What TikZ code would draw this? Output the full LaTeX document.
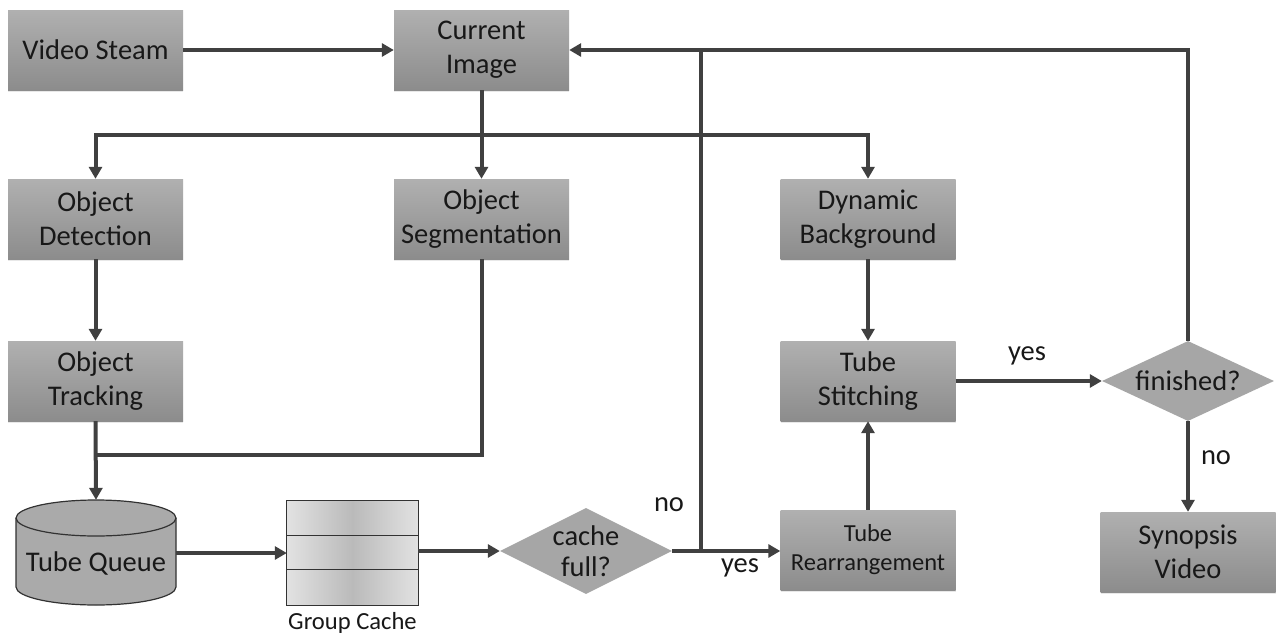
\documentclass[tikz,border=0pt]{standalone}
\usepackage{fontspec}
\setmainfont{Carlito}
\usetikzlibrary{arrows.meta,shapes.geometric,shadows,calc}
\definecolor{boxtop}{RGB}{176,176,176}
\definecolor{boxbot}{RGB}{140,140,140}
\definecolor{dia}{RGB}{166,166,166}
\definecolor{arrc}{RGB}{64,64,64}
\definecolor{txt}{RGB}{24,24,24}
\definecolor{cyl}{RGB}{170,170,170}
\definecolor{cylline}{RGB}{50,50,50}
\definecolor{gcL}{RGB}{226,226,226}
\definecolor{gcM}{RGB}{186,186,186}
\begin{document}
\begin{tikzpicture}[x=1pt,y=-1pt,
  box/.style={rectangle, minimum width=175pt, minimum height=80pt,
    top color=boxtop, bottom color=boxbot, draw=none, align=center,
    font=\fontsize{28.5}{34}\selectfont, text=txt, inner sep=0pt,
    drop shadow={shadow xshift=0pt, shadow yshift=-2pt, opacity=0.18}},
  smallbox/.style={box, font=\fontsize{24.5}{29}\selectfont},
  decision/.style={diamond, fill=dia, minimum width=172pt, inner sep=-4pt,
    shape aspect=2.1, align=center, text=txt,
    font=\fontsize{28.5}{31}\selectfont},
  lbl/.style={font=\fontsize{28.5}{34}\selectfont, text=txt, inner sep=0pt},
  link/.style={draw=arrc, line width=4pt, -{Triangle[length=12pt,width=13pt]}},
  plain/.style={draw=arrc, line width=4pt}
]
\useasboundingbox[fill=white] (0,0) rectangle (1279,637);

% nodes
\node[box] (vs) at (95.5,50) {Video Steam};
\node[box] (ci) at (481.5,50) {Current\\Image};
\node[box] (od) at (95.5,219) {Object\\Detection};
\node[box] (os) at (481.5,219) {Object\\Segmentation};
\node[box] (db) at (868,219) {Dynamic\\Background};
\node[box] (ot) at (95.5,381) {Object\\Tracking};
\node[box] (ts) at (868,381) {Tube\\Stitching};
\node[decision, minimum height=80pt] (fin) at (1188,381) {finished?};
\node[smallbox] (tr) at (868,550) {Tube\\Rearrangement};
\node[box] (sv) at (1188,552) {Synopsis\\Video};
\node[decision, minimum height=86pt] (cf) at (586,551) {cache\\full?};

% tube queue cylinder
\fill[cyl] (16,518) -- (16,587) arc[start angle=180, end angle=0, x radius=80, y radius=18]
  -- (176,518) arc[start angle=0, end angle=-180, x radius=80, y radius=18] -- cycle;
\draw[cylline, line width=1.2pt] (16,518) -- (16,587) arc[start angle=180, end angle=0, x radius=80, y radius=18] -- (176,518);
\draw[cylline, line width=1.2pt, fill=cyl] (96,518) ellipse[x radius=80, y radius=18];
\node[rectangle, minimum width=160pt, minimum height=105pt, inner sep=0pt,
  text height=40pt, text depth=2pt, text=txt, font=\fontsize{28.5}{34}\selectfont]
  (tq) at (96,552.5) {Tube Queue};

% group cache
\node[rectangle, minimum width=131pt, minimum height=104pt, inner sep=0pt] (gc) at (352.5,553) {};
\shade[left color=gcL, right color=gcL, middle color=gcM] (gc.north west) rectangle ($(gc.north east)+(0,35)$);
\shade[left color=gcL, right color=gcL, middle color=gcM] ($(gc.north west)+(0,35)$) rectangle ($(gc.north east)+(0,69)$);
\shade[left color=gcL, right color=gcL, middle color=gcM] ($(gc.north west)+(0,69)$) rectangle (gc.south east);
\draw[cylline, line width=1.2pt] (gc.north west) rectangle (gc.south east);
\draw[cylline, line width=1.2pt] ($(gc.north west)+(0,35)$) -- ($(gc.north east)+(0,35)$);
\draw[cylline, line width=1.2pt] ($(gc.north west)+(0,69)$) -- ($(gc.north east)+(0,69)$);
\node[lbl, font=\fontsize{24.6}{29}\selectfont] (gcl) at (352.5,623) {Group Cache};

% junction coordinates
\coordinate (j1) at (481.5,135);
\coordinate (j2) at (95.5,455);
\coordinate (j3) at (701,551);

% connectors
\draw[link] (vs) -- (ci);
\draw[link] (fin.north) |- (ci.east);
\draw[link] (ci.south) -- (os.north);
\draw[link] (j1) -| (od.north);
\draw[link] (j1) -| (db.north);
\draw[link] (od.south) -- (ot.north);
\draw[plain] (os.south) |- (j2);
\draw[link] (ot.south) -- (tq.north);
\draw[link] (tq.east |- gc.west) -- (gc.west);
\draw[link] (gc.east |- cf.west) -- (cf.west);
\draw[link] (cf.east) -- (tr.west |- cf.east);
\draw[plain] (j3) -- (j3 |- ci.east);
\draw[link] (tr.north) -- (ts.south);
\draw[link] (db.south) -- (ts.north);
\draw[link] (ts.east) -- (fin.west |- ts.east);
\draw[link] (fin.south) -- (sv.north);

% edge labels
\node[lbl] (no1) at (669,505) {no};
\node[lbl] (yes1) at (740,568) {yes};
\node[lbl] (yes2) at (1027,356) {yes};
\node[lbl] (no2) at (1216,458) {no};
\end{tikzpicture}
\end{document}
